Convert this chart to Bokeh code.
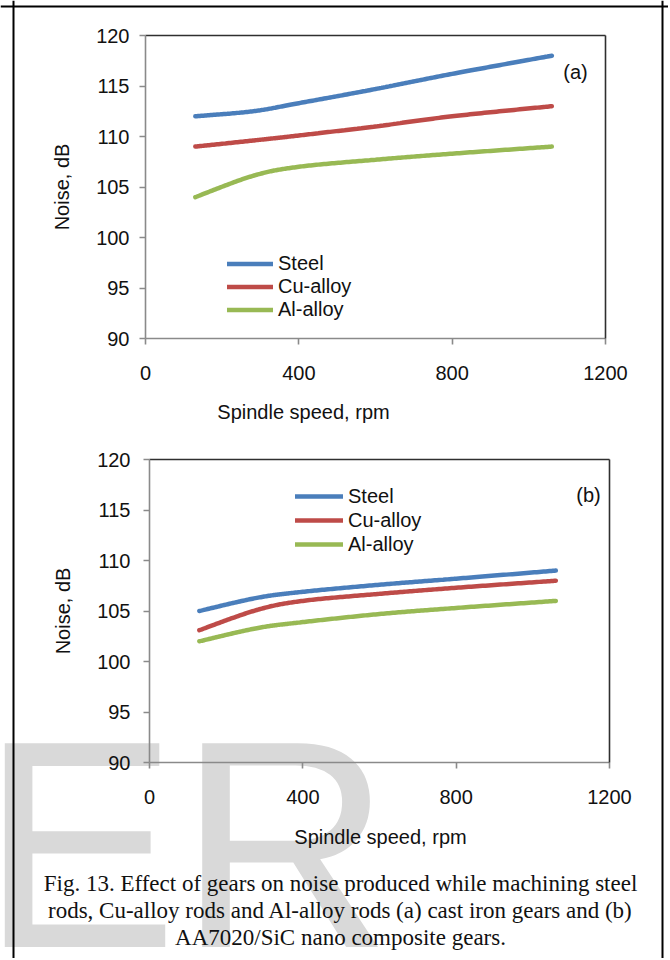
import numpy as np
from bokeh.plotting import figure
from bokeh.models import (Range1d, FixedTicker, Legend, LegendItem, Label,
                          LinearAxis, Span)
from bokeh.embed import file_html
from bokeh.resources import INLINE

# ---------------- data ----------------
speed = [130, 280, 400, 600, 800, 1060]          # spindle speed, rpm

a_steel = [112.0, 112.5, 113.3, 114.7, 116.2, 118.0]
a_cu    = [109.0, 109.6, 110.1, 111.0, 112.0, 113.0]
a_al    = [104.0, 106.1, 107.0, 107.7, 108.3, 109.0]

b_steel = [105.0, 106.3, 106.9, 107.6, 108.2, 109.0]
b_cu    = [103.1, 105.1, 106.0, 106.7, 107.3, 108.0]
b_al    = [102.0, 103.3, 103.9, 104.7, 105.3, 106.0]

series_names = ["Steel", "Cu-alloy", "Al-alloy"]
x_ticks = [0, 400, 800, 1200]
y_ticks = [90, 95, 100, 105, 110, 115, 120]
panel_tags = ["(a)", "(b)"]
x_title = "Spindle speed, rpm"
y_title = "Noise, dB"
caption_lines = [
    "Fig. 13. Effect of gears on noise produced while machining steel",
    "rods, Cu-alloy rods and Al-alloy rods (a) cast iron gears and (b)",
    "AA7020/SiC nano composite gears.",
]
watermark = "ER"

# ---------------- styling / layout (page pixels) ----------------
COLORS = ["#4A7EBB", "#BE4B48", "#98B954"]
SANS = "Liberation Sans"
SERIF = "Liberation Serif"
TXT = "#111111"
X0, Y0, W, H = 0, 0, 668, 958          # canvas position on page and size

p = figure(frame_width=W, frame_height=H,
           x_range=Range1d(X0, X0 + W), y_range=Range1d(Y0 + H, Y0),
           x_axis_type=None, y_axis_type=None,
           output_backend="svg", toolbar_location=None,
           min_border=0, min_border_left=0, min_border_right=0,
           min_border_top=0, min_border_bottom=0)
p.grid.visible = False
p.outline_line_color = None
p.background_fill_color = "white"
p.border_fill_color = "white"

# watermark first (underneath everything)
p.add_layout(Label(x=-20, y=844, text=watermark, text_font=SANS,
                   text_font_size="296px", text_color="#d9d9d9",
                   text_align="left", text_baseline="alphabetic", level="image"))


def smooth(xs, ys, n=40):
    """Excel-like smoothed line (cubic Bezier through the points)."""
    P = np.column_stack([xs, ys]).astype(float)
    P = np.vstack([P[0], P, P[-1]])
    t = np.linspace(0, 1, n)[:, None]
    ox, oy = [], []
    for i in range(1, len(P) - 2):
        p0, p1, p2, p3 = P[i - 1], P[i], P[i + 1], P[i + 2]
        c1 = p1 + (p2 - p0) / 6.0
        c2 = p2 - (p3 - p1) / 6.0
        seg = (1 - t) ** 3 * p1 + 3 * (1 - t) ** 2 * t * c1 + 3 * (1 - t) * t ** 2 * c2 + t ** 3 * p2
        ox.extend(seg[:, 0].tolist())
        oy.extend(seg[:, 1].tolist())
    return ox, oy


def add_chart(key, series, left, right, top, bottom, ylab_standoff,
              legend_loc, legend_row, glyph_w):
    kx = 1200.0 / (right - left)
    ky = 30.0 / (bottom - top)
    xr, yr = "x" + key, "y" + key
    p.extra_x_ranges[xr] = Range1d(-(left - X0) * kx, 1200 + (X0 + W - right) * kx)
    p.extra_y_ranges[yr] = Range1d(90 - (Y0 + H - bottom) * ky, 120 + (top - Y0) * ky)

    def style(ax, color):
        ax.axis_line_color = color
        ax.axis_line_width = 1.6
        ax.major_tick_line_color = "#8a8a8a"
        ax.major_tick_line_width = 1.6
        ax.major_tick_in = 0
        ax.major_tick_out = 6
        ax.minor_tick_line_color = None
        ax.major_label_text_font = SANS
        ax.major_label_text_font_size = "20px"
        ax.major_label_text_color = TXT

    xa = LinearAxis(x_range_name=xr, y_range_name=yr, fixed_location=90,
                    bounds=(0, 1200), ticker=FixedTicker(ticks=x_ticks))
    style(xa, "#8a8a8a")
    xa.major_label_standoff = 21
    p.add_layout(xa, "below")

    ya = LinearAxis(x_range_name=xr, y_range_name=yr, fixed_location=0,
                    bounds=(90, 120), ticker=FixedTicker(ticks=y_ticks))
    style(ya, "#8a8a8a")
    ya.major_label_standoff = ylab_standoff
    ya.axis_label = y_title
    ya.axis_label_text_font = SANS
    ya.axis_label_text_font_size = "20px"
    ya.axis_label_text_font_style = "normal"
    ya.axis_label_text_color = TXT
    ya.axis_label_standoff = 20
    p.add_layout(ya, "left")

    # plot-area border on top and right
    ta = LinearAxis(x_range_name=xr, y_range_name=yr, fixed_location=120,
                    bounds=(0, 1200), ticker=FixedTicker(ticks=[]))
    ra = LinearAxis(x_range_name=xr, y_range_name=yr, fixed_location=1200,
                    bounds=(90, 120), ticker=FixedTicker(ticks=[]))
    for ax in (ta, ra):
        ax.axis_line_color = "#2f2f2f"
        ax.axis_line_width = 1.6
        ax.major_tick_line_color = None
        ax.minor_tick_line_color = None
        ax.major_label_text_font_size = "0px"
    p.add_layout(ta, "above")
    p.add_layout(ra, "right")

    items = []
    for name, ys, col in zip(series_names, series, COLORS):
        sx, sy = smooth(speed, ys)
        r = p.line(sx, sy, line_color=col, line_width=4.5, line_cap="round",
                   x_range_name=xr, y_range_name=yr)
        items.append(LegendItem(label=name, renderers=[r]))
    leg = Legend(items=items, location=legend_loc, orientation="vertical",
                 glyph_width=glyph_w, glyph_height=legend_row, label_height=legend_row,
                 label_standoff=5, spacing=0, padding=0, margin=0,
                 border_line_alpha=0, background_fill_alpha=0,
                 label_text_font=SANS, label_text_font_size="20px",
                 label_text_color=TXT)
    p.add_layout(leg)


add_chart("a", [a_steel, a_cu, a_al], left=145, right=605, top=35, bottom=338,
          ylab_standoff=10, legend_loc=(227 - X0, Y0 + H - 321), legend_row=23, glyph_w=46)
add_chart("b", [b_steel, b_cu, b_al], left=149, right=609, top=459, bottom=762,
          ylab_standoff=13, legend_loc=(295 - X0, Y0 + H - 556), legend_row=24, glyph_w=48)


def text(x, y, s, size="20px", font=SANS):
    p.add_layout(Label(x=x, y=y, text=s, text_font=font, text_font_size=size,
                       text_color=TXT, text_align="center", text_baseline="middle"))


text(575, 71, panel_tags[0])
text(588, 494, panel_tags[1])
text(303, 411, x_title)
text(380, 836, x_title)
for i, line in enumerate(caption_lines):
    text(340, 883 + 27 * i, line, size="23px", font=SERIF)

# page frame (left, top, right)
for loc, dim in ((13, "height"), (662, "height"), (6, "width")):
    p.add_layout(Span(location=loc, dimension=dim, line_color="black", line_width=2))

open("out.html", "w").write(file_html(p, INLINE))
